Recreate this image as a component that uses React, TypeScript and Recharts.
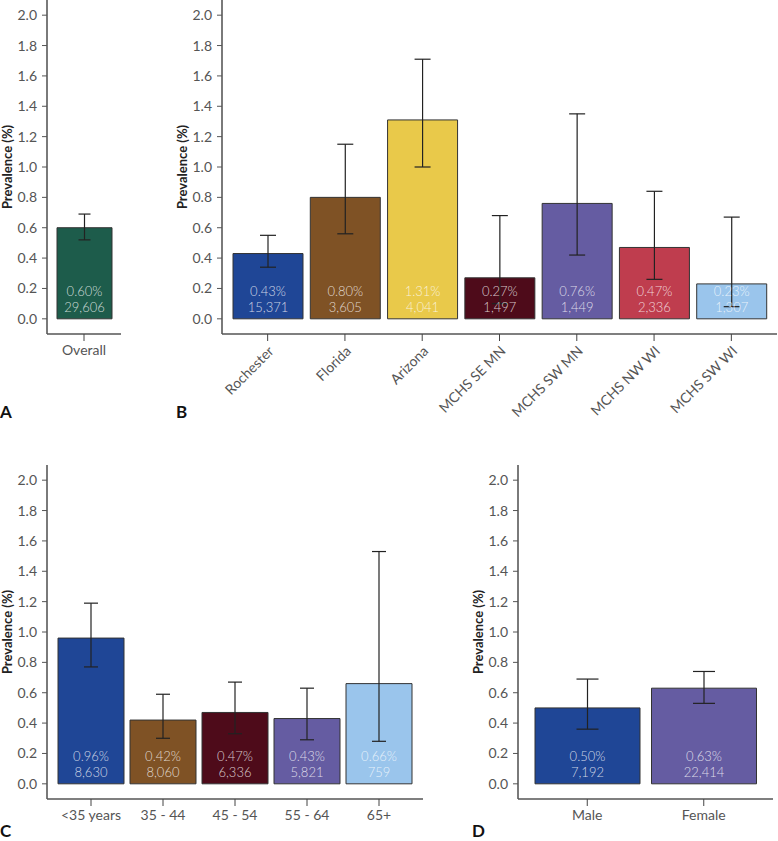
import { BarChart, Bar, XAxis, YAxis, ErrorBar, Cell, LabelList } from "recharts";

// Panel A - overall
const overallNames = ["Overall"];
const overallValues = [0.6];
const overallLow = [0.52];
const overallHigh = [0.69];
const overallCounts = [29606];
const overallColors = ["#1d5c4b"];

// Panel B - site
const siteNames = ["Rochester", "Florida", "Arizona", "MCHS SE MN", "MCHS SW MN", "MCHS NW WI", "MCHS SW WI"];
const siteValues = [0.43, 0.8, 1.31, 0.27, 0.76, 0.47, 0.23];
const siteLow = [0.34, 0.56, 1.0, 0.1, 0.42, 0.26, 0.08];
const siteHigh = [0.55, 1.15, 1.71, 0.68, 1.35, 0.84, 0.67];
const siteCounts = [15371, 3605, 4041, 1497, 1449, 2336, 1307];
const siteColors = ["#1f4696", "#7f5225", "#e9c94a", "#4e0b1a", "#655ca2", "#bf3d4e", "#9ac5ec"];

// Panel C - age
const ageNames = ["<35 years", "35 - 44", "45 - 54", "55 - 64", "65+"];
const ageValues = [0.96, 0.42, 0.47, 0.43, 0.66];
const ageLow = [0.77, 0.3, 0.33, 0.29, 0.28];
const ageHigh = [1.19, 0.59, 0.67, 0.63, 1.53];
const ageCounts = [8630, 8060, 6336, 5821, 759];
const ageColors = ["#1f4696", "#7f5225", "#4e0b1a", "#655ca2", "#9ac5ec"];

// Panel D - sex
const sexNames = ["Male", "Female"];
const sexValues = [0.5, 0.63];
const sexLow = [0.36, 0.53];
const sexHigh = [0.69, 0.74];
const sexCounts = [7192, 22414];
const sexColors = ["#1f4696", "#655ca2"];

const yTicks = [0, 0.2, 0.4, 0.6, 0.8, 1.0, 1.2, 1.4, 1.6, 1.8, 2.0];
const FONT = "Lato, 'Open Sans', 'DejaVu Sans', sans-serif";

type Row = { name: string; value: number; err: number[]; n: number; color: string };

function buildRows(names: string[], values: number[], low: number[], high: number[], counts: number[], colors: string[]): Row[] {
  return names.map((name, i) => ({
    name,
    value: values[i],
    err: [values[i] - low[i], high[i] - values[i]],
    n: counts[i],
    color: colors[i],
  }));
}

const makeBarText = (rows: Row[]) => (props: any) => {
  const { x, y, width, height, index } = props;
  const row = rows[index];
  const cx = Number(x) + Number(width) / 2;
  const bottom = Number(y) + Number(height);
  return (
    <g fill="rgba(255,255,255,0.78)" fontSize={13} fontFamily={FONT} fontWeight={300} textAnchor="middle">
      <text x={cx} y={bottom - 28} dominantBaseline="central">
        {row.value.toFixed(2)}%
      </text>
      <text x={cx} y={bottom - 12} dominantBaseline="central">
        {row.n.toLocaleString("en-US")}
      </text>
    </g>
  );
};

type PanelProps = {
  rows: Row[];
  left: number;
  top: number;
  width: number;
  xHeight: number;
  barSize: number;
  pad: number;
  capWidth: number;
  angled?: boolean;
};

function Panel({ rows, left, top, width, xHeight, barSize, pad, capWidth, angled }: PanelProps) {
  const plotH = 334;
  return (
    <div style={{ position: "absolute", left, top }}>
      <BarChart
        width={width}
        height={plotH + xHeight}
        data={rows}
        margin={{ top: 0, right: 1, bottom: 0, left: 0 }}
        barCategoryGap={0}
      >
        <YAxis
          type="number"
          domain={[-0.1, 2.1]}
          ticks={yTicks}
          width={47}
          tickFormatter={(v: number) => v.toFixed(1)}
          tick={{ fill: "#555", fontSize: 14, fontFamily: FONT }}
          tickSize={5}
          tickMargin={5}
          axisLine={{ stroke: "#7a7a7a", strokeWidth: 2 }}
          tickLine={{ stroke: "#555" }}
          label={{
            value: "Prevalence (%)",
            angle: -90,
            position: "insideLeft",
            offset: 7,
            style: { textAnchor: "middle", fontWeight: 700, fontSize: 13, fill: "#222", fontFamily: FONT },
          }}
        />
        <XAxis
          dataKey="name"
          type="category"
          height={xHeight}
          padding={{ left: pad, right: pad }}
          interval={0}
          tickSize={7}
          tickMargin={4}
          axisLine={{ stroke: "#555", strokeWidth: 1.5 }}
          tickLine={{ stroke: "#444" }}
          tick={{ fill: "#555", fontSize: 14, fontFamily: FONT }}
          angle={angled ? -45 : 0}
          textAnchor={angled ? "end" : "middle"}
        />
        <Bar dataKey="value" barSize={barSize} stroke="#333" strokeWidth={1} isAnimationActive={false}>
          {rows.map((r) => (
            <Cell key={r.name} fill={r.color} />
          ))}
          <ErrorBar dataKey="err" direction="y" width={capWidth} stroke="#222" strokeWidth={1.2} isAnimationActive={false} />
          <LabelList dataKey="value" content={makeBarText(rows)} />
        </Bar>
      </BarChart>
    </div>
  );
}

const panelLetter = (letter: string, left: number, top: number) => (
  <div
    style={{
      position: "absolute",
      left,
      top,
      fontFamily: FONT,
      fontWeight: 700,
      fontSize: 17,
      color: "#111",
      lineHeight: "17px",
    }}
  >
    {letter}
  </div>
);

export default function App() {
  const overall = buildRows(overallNames, overallValues, overallLow, overallHigh, overallCounts, overallColors);
  const site = buildRows(siteNames, siteValues, siteLow, siteHigh, siteCounts, siteColors);
  const age = buildRows(ageNames, ageValues, ageLow, ageHigh, ageCounts, ageColors);
  const sex = buildRows(sexNames, sexValues, sexLow, sexHigh, sexCounts, sexColors);

  return (
    <div style={{ position: "absolute", left: 0, top: 0, width: 778, height: 841, background: "#fff", overflow: "hidden" }}>
      <Panel rows={overall} left={0} top={0} width={122} xHeight={36} barSize={55} pad={0} capWidth={6} />
      <Panel rows={site} left={175} top={0} width={603} xHeight={95} barSize={70} pad={7} capWidth={8} angled />
      <Panel rows={age} left={0} top={465} width={424} xHeight={36} barSize={66} pad={8} capWidth={7} />
      <Panel rows={sex} left={471} top={465} width={303} xHeight={36} barSize={105} pad={11} capWidth={11} />
      {panelLetter("A", 0, 403)}
      {panelLetter("B", 176, 403)}
      {panelLetter("C", 0, 822)}
      {panelLetter("D", 472, 822)}
    </div>
  );
}
